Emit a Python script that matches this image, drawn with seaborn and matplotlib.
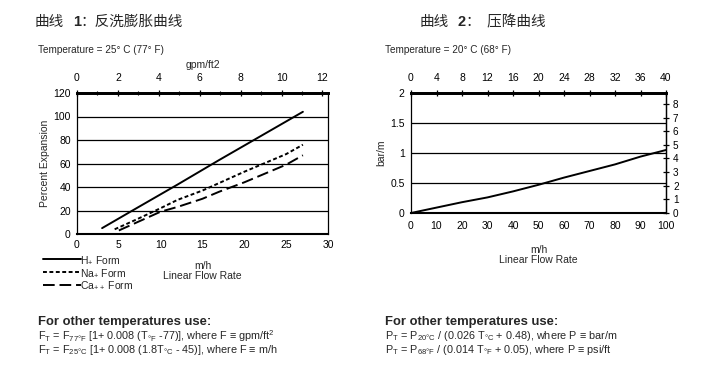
import matplotlib
matplotlib.use("Agg")
import matplotlib.pyplot as plt
import seaborn as sns
import pandas as pd
from matplotlib.ticker import MultipleLocator

# backwash expansion, x in m/h
h_x = [3, 7, 12, 17, 22, 27]
h_y = [5, 21.5, 42, 63, 83.5, 104]
na_x = [4.5, 7, 10, 12, 15, 20, 25, 27]
na_y = [4, 12, 22, 29, 37, 53, 68, 76]
ca_x = [5, 10, 12, 15, 17, 20, 25, 27]
ca_y = [3, 19, 23, 30, 36, 44, 59, 67]
forms = ["H$_{+}$ Form", "Na$_{+}$ Form", "Ca$_{++}$ Form"]

# pressure drop, x in m/h, y in bar/m
dp_x = [0, 10, 20, 30, 40, 50, 60, 70, 80, 90, 100]
dp_y = [0, 0.09, 0.18, 0.26, 0.36, 0.47, 0.59, 0.70, 0.81, 0.94, 1.05]

sns.set_style("white")
plt.rcParams['font.family'] = ['Liberation Sans', 'Noto Sans CJK SC', 'DejaVu Sans']
plt.rcParams['mathtext.fontset'] = 'custom'
plt.rcParams['mathtext.rm'] = 'Liberation Sans'
plt.rcParams['mathtext.default'] = 'regular'

W, H = 724, 383


def px(x, y):
    return x / W, 1 - y / H


fig = plt.figure(figsize=(7.24, 3.83), dpi=100)
ax1 = fig.add_axes([77 / W, 1 - 234 / H, (328 - 77) / W, (234 - 93) / H])
ax2 = fig.add_axes([411 / W, 1 - 213 / H, (666 - 411) / W, (213 - 93) / H])

df = pd.DataFrame({
    "x": h_x + na_x + ca_x,
    "y": h_y + na_y + ca_y,
    "form": [forms[0]] * len(h_x) + [forms[1]] * len(na_x) + [forms[2]] * len(ca_x),
})
sns.lineplot(data=df, x="x", y="y", hue="form", style="form",
             palette=["black"] * 3,
             dashes={forms[0]: "", forms[1]: (2, 1.3), forms[2]: (6, 2.5)},
             linewidth=1.4, ax=ax1, sort=False)
handles, labels = ax1.get_legend_handles_labels()
ax1.get_legend().remove()

for v in [20, 40, 60, 80, 100]:
    ax1.axhline(v, color="black", lw=0.9, zorder=0)
ax1.set_xlim(0, 30)
ax1.set_ylim(0, 120)
ax1.xaxis.set_major_locator(MultipleLocator(5))
ax1.xaxis.set_minor_locator(MultipleLocator(1))
ax1.yaxis.set_major_locator(MultipleLocator(20))
ax1.set_xlabel("m/h\nLinear Flow Rate", fontsize=7.5, labelpad=8, linespacing=1.0)
ax1.set_ylabel("Percent Expansion", fontsize=7.5, labelpad=2)

top1 = ax1.secondary_xaxis('top', functions=(lambda x: x / 2.445, lambda x: x * 2.445))
top1.xaxis.set_major_locator(MultipleLocator(2))
top1.xaxis.set_minor_locator(MultipleLocator(1))
top1.set_xlabel("gpm/ft2", fontsize=7.5, labelpad=3)

sns.lineplot(x=dp_x, y=dp_y, color="black", linewidth=1.4, ax=ax2)
for v in [0.5, 1, 1.5]:
    ax2.axhline(v, color="black", lw=0.9, zorder=0)
ax2.set_xlim(0, 100)
ax2.set_ylim(0, 2)
ax2.xaxis.set_major_locator(MultipleLocator(10))
ax2.yaxis.set_major_locator(MultipleLocator(0.5))
ax2.yaxis.set_major_formatter(plt.FuncFormatter(lambda v, p: f"{v:g}"))
ax2.set_xlabel("m/h\nLinear Flow Rate", fontsize=7.5, labelpad=10, linespacing=1.0)
ax2.set_ylabel("bar/m", fontsize=7.5, labelpad=3)

top2 = ax2.secondary_xaxis('top', functions=(lambda x: x / 2.5, lambda x: x * 2.5))
top2.xaxis.set_major_locator(MultipleLocator(4))
right2 = ax2.secondary_yaxis('right', functions=(lambda y: y * 4.4, lambda y: y / 4.4))
right2.yaxis.set_major_locator(MultipleLocator(1))

for a in [ax1, ax2, top1, top2, right2]:
    a.tick_params(which="both", direction="inout", labelsize=7.5, colors="black", pad=2)
    a.tick_params(which="major", length=5, width=0.9)
    a.tick_params(which="minor", length=3, width=0.8)
    for s in a.spines.values():
        s.set_color("black")
        s.set_linewidth(0.9)
for a in [top1, top2]:
    a.tick_params(which="both", pad=5)
right2.tick_params(labelsize=7.2, pad=2.5)
ax2.tick_params(axis="x", pad=3)
for a in [ax1, ax2]:
    a.spines["top"].set_linewidth(2)
    a.spines["bottom"].set_linewidth(1.5)
top1.spines["top"].set_linewidth(2)
top2.spines["top"].set_linewidth(2)

# legend below left chart
fig.legend(handles, labels, loc="upper left", bbox_to_anchor=px(43, 254),
           frameon=False, fontsize=7.5, handlelength=3.6, handletextpad=0.0,
           labelspacing=0.1, borderaxespad=0, borderpad=0)

# titles
cjk = ['Noto Sans CJK SC']
fig.text(*px(35, 22), "曲线", fontsize=10.5, family=cjk, va="center")
fig.text(*px(73, 22), "1", fontsize=10.5, weight="bold", va="center")
fig.text(*px(80, 22), "：反洗膨胀曲线", fontsize=10.5, family=cjk, va="center")
fig.text(*px(420, 22), "曲线", fontsize=10.5, family=cjk, va="center")
fig.text(*px(458, 22), "2", fontsize=10.5, weight="bold", va="center")
fig.text(*px(466, 22), "：  压降曲线", fontsize=10.5, family=cjk, va="center")

fig.text(*px(38, 50), "Temperature = 25° C (77° F)", fontsize=7.2, va="center")
fig.text(*px(385, 50), "Temperature = 20° C (68° F)", fontsize=7.2, va="center")

fig.text(*px(38, 322), "For other temperatures use:", fontsize=9.4, weight="bold", va="center")
fig.text(*px(38, 336), "F$_T$ = F$_{77°F}$ [1+ 0.008 (T$_{°F}$ -77)], where F ≡ gpm/ft$^2$",
         fontsize=7.8, va="center")
fig.text(*px(38, 350), "F$_T$ = F$_{25°C}$ [1+ 0.008 (1.8T$_{°C}$ - 45)], where F ≡ m/h",
         fontsize=7.8, va="center")
fig.text(*px(385, 322), "For other temperatures use:", fontsize=9.4, weight="bold", va="center")
fig.text(*px(385, 336), "P$_T$ = P$_{20°C}$ / (0.026 T$_{°C}$ + 0.48), where P ≡ bar/m",
         fontsize=7.8, va="center")
fig.text(*px(385, 350), "P$_T$ = P$_{68°F}$ / (0.014 T$_{°F}$ + 0.05), where P ≡ psi/ft",
         fontsize=7.8, va="center")

fig.savefig("out.png", dpi=100)
